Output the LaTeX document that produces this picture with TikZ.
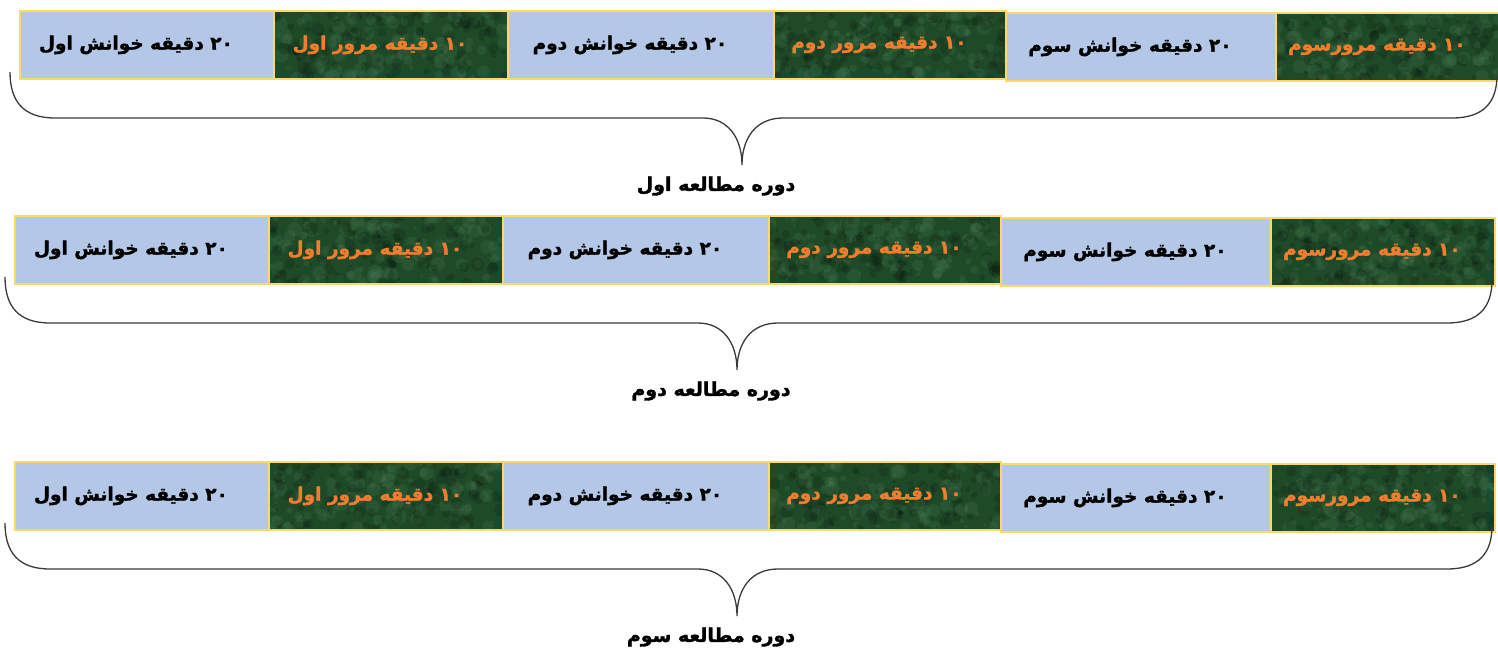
\documentclass[tikz,border=0pt]{standalone}
\usepackage{fontspec}
\usetikzlibrary{calc}
\TeXXeTstate=1
\newfontfamily\fa[Script=Arabic, BoldFeatures={FakeBold=1.6}]{DejaVu Sans}
\newcommand\rtltext[1]{\raisebox{-2.5pt}{\beginR #1\endR}\kern22pt}
\definecolor{boxblue}{HTML}{B4C7E7}
\definecolor{boxedge}{HTML}{FFD966}
\definecolor{darkgreen}{HTML}{1F4A28}
\definecolor{lightgreen}{HTML}{5A9468}
\definecolor{txtorange}{HTML}{F07E2E}
\definecolor{bracegray}{HTML}{3A3A3A}
\tikzset{
  cell/.style={draw=boxedge, line width=1.8pt, minimum height=68pt, anchor=north west,
    inner sep=0pt, font=\fa\bfseries\fontsize{18.5}{21}\selectfont},
  readbox/.style={cell, fill=boxblue, text=black},
  reviewbox/.style={cell, fill=darkgreen, text=txtorange,
    path picture={
      \foreach \k in {1,...,110}{
        \fill[lightgreen, opacity=0.14]
          ($(path picture bounding box.north west)!rnd!(path picture bounding box.north east)+(0,{rnd*68})$)
          circle[radius={(1.5+rnd*6)*1pt}];
        \fill[black, opacity=0.14]
          ($(path picture bounding box.north west)!rnd!(path picture bounding box.north east)+(0,{rnd*68})$)
          circle[radius={(1.5+rnd*5)*1pt}];
      }
    }},
  bracepath/.style={draw=bracegray, line width=1.3pt},
  periodlabel/.style={font=\fa\bfseries\fontsize{19}{22}\selectfont, text=black}
}
\begin{document}
\begin{tikzpicture}[x=1pt,y=-1pt]
\pgfmathsetseed{7}
\useasboundingbox (0,0) rectangle (1498,652);
\foreach \dx/\dy/\ord [count=\r] in {0/0/اول, -5/205/دوم, -5/451/سوم}{
\begin{scope}[shift={(\dx,\dy)}]
  \node[readbox, minimum width=254pt] (r\r-1) at (19,10) {\rtltext{۲۰ دقیقه خوانش اول}};
  \node[reviewbox, minimum width=234pt] (r\r-2) at (273,10) {\rtltext{۱۰ دقیقه مرور اول}};
  \node[readbox, minimum width=266pt] (r\r-3) at (507,10) {\rtltext{۲۰ دقیقه خوانش دوم}};
  \node[reviewbox, minimum width=232pt] (r\r-4) at (773,10) {\rtltext{۱۰ دقیقه مرور دوم}};
  \node[readbox, minimum width=270pt] (r\r-5) at (1005,12) {\rtltext{۲۰ دقیقه خوانش سوم}};
  \node[reviewbox, minimum width=224pt] (r\r-6) at (1275,12) {\rtltext{۱۰ دقیقه مرورسوم}};
  \coordinate (bl\r) at (10,72);
  \coordinate (bt\r) at (742,165);
  \coordinate (br\r) at (1497,75);
  \draw[bracepath] (bl\r) .. controls (10,102) and (24,118) .. (55,118) -- (703,118)
    .. controls (728,118) and (742,138) .. (bt\r)
    .. controls (742,138) and (756,118) .. (783,118) -- (1452,118)
    .. controls (1484,118) and (1497,102) .. (br\r);
  \node[periodlabel] (lab\r) at (716,186) {\beginR دوره مطالعه \ord\endR};
\end{scope}
}
\end{tikzpicture}
\end{document}
